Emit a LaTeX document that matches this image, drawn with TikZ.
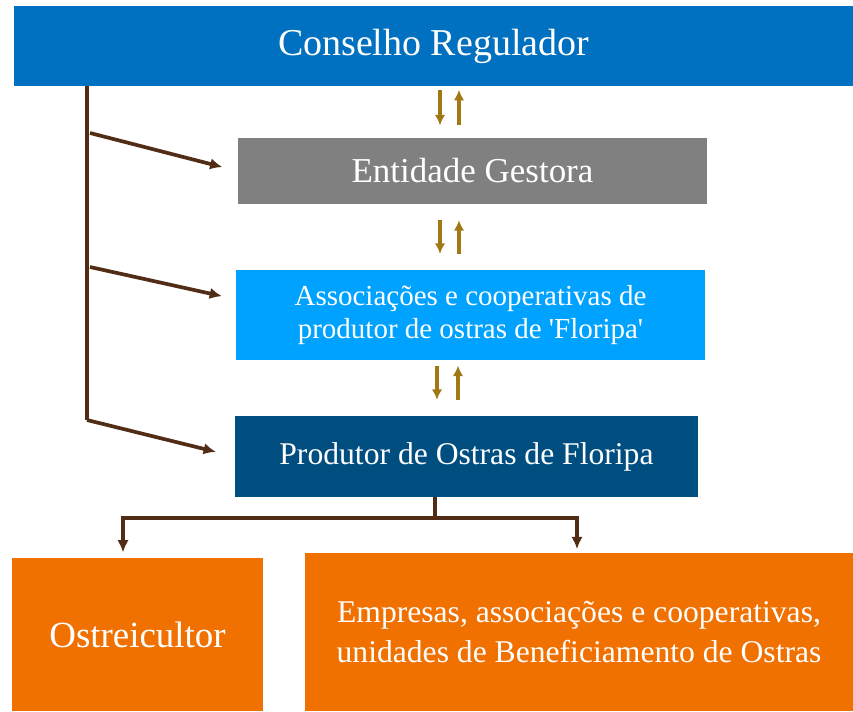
\documentclass[tikz,border=0pt]{standalone}
\usepackage{fontspec}
\setmainfont{Liberation Serif}
\usepackage{xcolor}
\usetikzlibrary{arrows.meta,positioning}
\definecolor{consblue}{RGB}{0,112,192}
\definecolor{gestgray}{RGB}{128,128,128}
\definecolor{assocblue}{RGB}{0,162,255}
\definecolor{prodblue}{RGB}{0,78,128}
\definecolor{orng}{RGB}{240,112,0}
\definecolor{brn}{RGB}{80,45,20}
\definecolor{gold}{RGB}{160,120,20}
\tikzset{
  box/.style={rectangle,inner sep=0pt,text=white,align=center},
  link/.style={draw=brn,line width=2.1pt,-{Latex[length=7pt,width=6.5pt]}},
  trunk/.style={draw=brn,line width=2.1pt},
  updn/.style={draw=gold,line width=1.9pt,-{Latex[length=6pt,width=6pt]}}
}

\begin{document}
\begin{tikzpicture}[x=0.02cm,y=-0.02cm]
\useasboundingbox (0,0) rectangle (853,711);
\node (cons) at (433.5,46) [box,fill=consblue,minimum width=16.78cm,minimum height=1.6cm,font=\fontsize{21.6}{25}\selectfont] {Conselho Regulador};
\node (gest) at (472.5,171) [box,fill=gestgray,minimum width=9.38cm,minimum height=1.32cm,font=\fontsize{19.9}{23}\selectfont] {Entidade Gestora};
\node (assoc) at (470.5,315) [box,fill=assocblue,minimum width=9.38cm,minimum height=1.8cm,font=\fontsize{16.5}{18.8}\selectfont] {Associações e cooperativas de\\produtor de ostras de \textquotesingle Floripa\textquotesingle};
\node (prod) at (466.5,456.5) [box,fill=prodblue,minimum width=9.26cm,minimum height=1.62cm,font=\fontsize{18}{22}\selectfont] {Produtor de Ostras de Floripa};
\node (ostr) at (137.5,634.5) [box,fill=orng,minimum width=5.02cm,minimum height=3.06cm,font=\fontsize{21}{25}\selectfont] {Ostreicultor};
\node (emp) at (579,632) [box,fill=orng,minimum width=10.96cm,minimum height=3.16cm,font=\fontsize{18}{22.5}\selectfont] {Empresas, associações e cooperativas,\\unidades de Beneficiamento de Ostras};
% trunk on the left
\coordinate (tb) at (87,420);
\coordinate (j1) at (90,133);
\coordinate (j2) at (90,267);
\draw[trunk] (cons.south -| tb) -- (tb);
\draw[link,shorten >=9pt] (j1) -- (gest.west);
\draw[link,shorten >=8pt] (j2) -- ([yshift=9pt]assoc.west);
\draw[link,shorten >=11pt] (tb) -- (prod.west);
% up and down arrows
\draw[updn,shorten <=2pt,shorten >=7pt] (cons.south -| 440,0) -- (gest.north -| 440,0);
\draw[updn,shorten <=7pt,shorten >=2pt] (gest.north -| 459,0) -- (cons.south -| 459,0);
\draw[updn,shorten <=9pt,shorten >=9pt] (gest.south -| 440,0) -- (assoc.north -| 440,0);
\draw[updn,shorten <=9pt,shorten >=9pt] (assoc.north -| 459,0) -- (gest.south -| 459,0);
\draw[updn,shorten <=3pt,shorten >=9pt] (assoc.south -| 437,0) -- (prod.north -| 437,0);
\draw[updn,shorten <=9pt,shorten >=3pt] (prod.north -| 458,0) -- (assoc.south -| 458,0);
% branch below
\coordinate (br) at (435,518);
\draw[trunk] (prod.south -| br) -- (br);
\draw[link,shorten >=3pt] (br) -| (ostr.north -| 123,0);
\draw[link,shorten >=2pt] (br) -| (emp.north -| 577,0);
\end{tikzpicture}
\end{document}
